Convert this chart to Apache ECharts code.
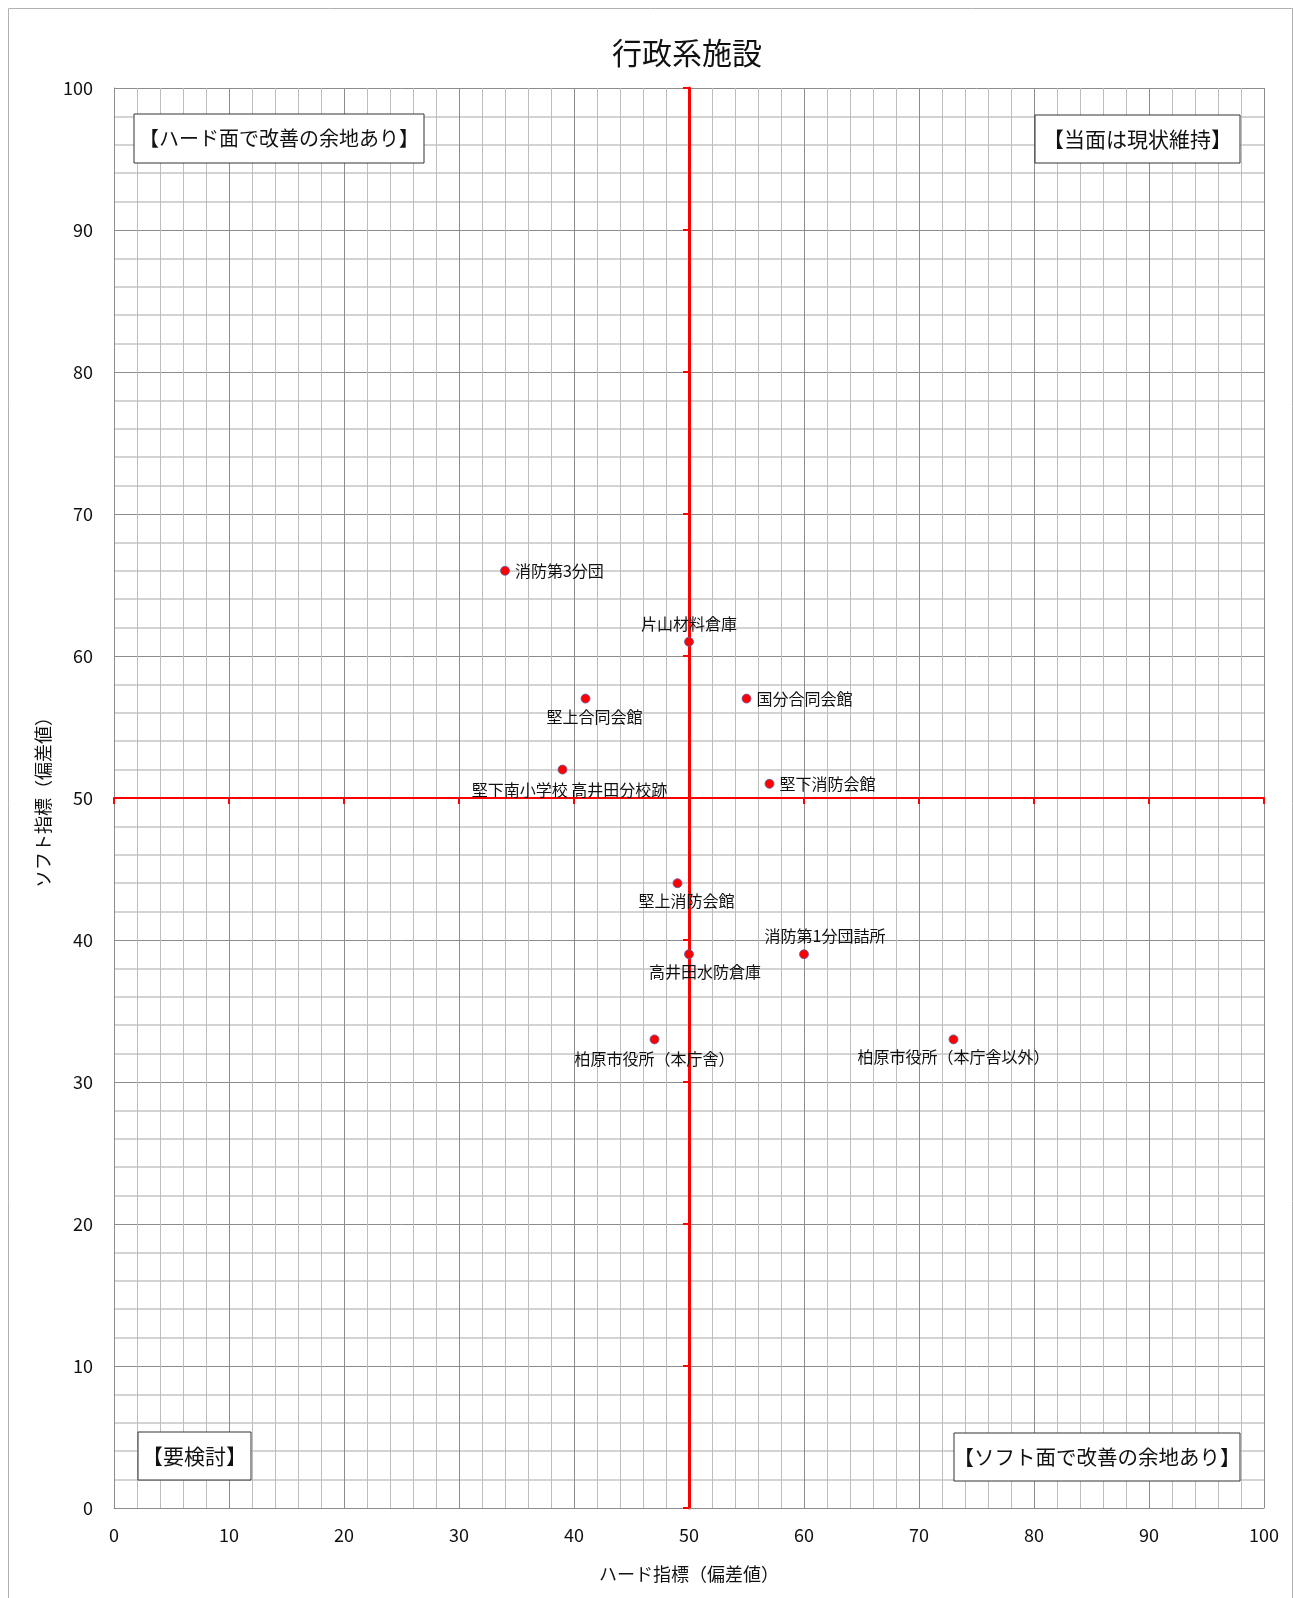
<!DOCTYPE html>
<html>
<head>
    <meta charset="utf-8">
    <script src="https://cdn.jsdelivr.net/npm/echarts@6.0.0/dist/echarts.min.js"></script>
    <style>
        body { margin: 0; background: #fff; }
        #main { width: 1293px; height: 1598px; }
    </style>
</head>

<body>
    <div id="main"></div>

    <script type="text/javascript">
        // data
        var facilities = ['消防第3分団', '片山材料倉庫', '堅上合同会館', '国分合同会館', '堅下南小学校 高井田分校跡',
            '堅下消防会館', '堅上消防会館', '消防第1分団詰所', '高井田水防倉庫', '柏原市役所（本庁舎）', '柏原市役所（本庁舎以外）'];
        var hardScore = [34, 50, 41, 55, 39, 57, 49, 60, 50, 47, 73];
        var softScore = [66, 61, 57, 57, 52, 51, 44, 39, 39, 33, 33];
        var axisMin = 0, axisMax = 100, axisStep = 10, midValue = 50;
        var quadrantNames = ['【ハード面で改善の余地あり】', '【当面は現状維持】', '【要検討】', '【ソフト面で改善の余地あり】'];

        // label placement (layout only)
        var labelSide = ['right', 'top', 'bottom', 'right', 'bottom', 'right', 'bottom', 'top', 'bottom', 'bottom', 'bottom'];
        var labelShift = [[0, 0], [0, 0], [9, 0], [0, 0], [7, 2], [0, 0], [9, 0], [21, 0], [16, 0], [0, 2], [0, 0]];

        var font = '"Noto Sans CJK JP", "Noto Sans", sans-serif';
        var gL = 114, gR = 29, gT = 88, gB = 90;
        var plotW = 1293 - gL - gR, plotH = 1598 - gT - gB;

        var myChart = echarts.init(document.getElementById('main'));

        var points = facilities.map(function (name, i) {
            return {
                name: name,
                value: [hardScore[i], softScore[i]],
                label: { position: labelSide[i], offset: labelShift[i] }
            };
        });

        function quadBox(text, x, y, w, h, size) {
            return {
                type: 'group', x: x, y: y,
                children: [
                    { type: 'rect', z: 100, shape: { x: 0, y: 0, width: w, height: h },
                      style: { fill: '#fff', stroke: '#333', lineWidth: 1 } },
                    { type: 'text', z: 101, x: w / 2, y: h / 2,
                      style: { text: text, fill: '#111', font: size + 'px ' + font, align: 'center', verticalAlign: 'middle' } }
                ]
            };
        }

        var hidden = { show: false };
        var redLine = { color: '#ff0000', width: 2 };

        myChart.setOption({
            animation: false,
            textStyle: { fontFamily: font },
            title: {
                text: '行政系施設',
                left: 682, top: 33, textAlign: 'center',
                textStyle: { fontSize: 30, fontWeight: 'normal', color: '#111', fontFamily: font }
            },
            graphic: [
                { type: 'rect', left: 6, top: 6, z: -10, silent: true,
                  shape: { width: 1284, height: 1600 }, style: { fill: 'none', stroke: '#b0b0b0', lineWidth: 1 } },
                quadBox(quadrantNames[0], 134, 114, 290, 49, 20),
                quadBox(quadrantNames[1], 1035, 115, 205, 48, 21),
                quadBox(quadrantNames[2], 138, 1432, 113, 48, 21),
                quadBox(quadrantNames[3], 954, 1433, 286, 48, 20.5)
            ],
            grid: [
                { left: gL, right: gR, top: gT, bottom: gB },
                // top half: its bottom edge carries the x = 50 line
                { left: gL, right: gR, top: gT, bottom: gB + plotH / 2 },
                // right half: its left edge carries the y = 50 line
                { left: gL + plotW / 2, right: gR, top: gT, bottom: gB }
            ],
            xAxis: [
                {
                    gridIndex: 0, type: 'value', min: axisMin, max: axisMax, interval: axisStep,
                    name: 'ハード指標（偏差値）', nameLocation: 'middle', nameGap: 57,
                    nameTextStyle: { fontSize: 18, color: '#111', fontFamily: font },
                    axisLine: { show: true, lineStyle: { color: '#8c8c8c', width: 1 } },
                    axisTick: hidden,
                    axisLabel: { fontSize: 18, color: '#111', margin: 18, fontFamily: font },
                    splitLine: { show: true, lineStyle: { color: '#8c8c8c', width: 1 } },
                    minorTick: { show: false, splitNumber: 5 },
                    minorSplitLine: { show: true, lineStyle: { color: '#bdbdbd', width: 1 } }
                },
                {
                    gridIndex: 1, type: 'value', min: axisMin, max: axisMax, interval: axisStep,
                    axisLine: { show: true, lineStyle: { color: '#ff0000', width: 2 } },
                    axisTick: { show: true, inside: false, length: 6, lineStyle: redLine },
                    axisLabel: hidden, splitLine: hidden
                },
                {
                    gridIndex: 2, type: 'value', min: midValue, max: axisMax,
                    axisLine: hidden, axisTick: hidden, axisLabel: hidden, splitLine: hidden
                }
            ],
            yAxis: [
                {
                    gridIndex: 0, type: 'value', min: axisMin, max: axisMax, interval: axisStep,
                    name: 'ソフト指標（偏差値）', nameLocation: 'middle', nameGap: 62,
                    nameTextStyle: { fontSize: 18, color: '#111', fontFamily: font },
                    axisLine: { show: true, lineStyle: { color: '#8c8c8c', width: 1 } },
                    axisTick: hidden,
                    axisLabel: { fontSize: 18, color: '#111', margin: 21, fontFamily: font },
                    splitLine: { show: true, lineStyle: { color: '#8c8c8c', width: 1 } },
                    minorTick: { show: false, splitNumber: 5 },
                    minorSplitLine: { show: true, lineStyle: { color: '#d3d3d3', width: 2 } }
                },
                {
                    gridIndex: 1, type: 'value', min: midValue, max: axisMax,
                    axisLine: hidden, axisTick: hidden, axisLabel: hidden, splitLine: hidden
                },
                {
                    gridIndex: 2, type: 'value', min: axisMin, max: axisMax, interval: axisStep, position: 'left',
                    axisLine: { show: true, lineStyle: { color: '#ff0000', width: 3 } },
                    axisTick: { show: true, inside: false, length: 6, lineStyle: redLine },
                    axisLabel: hidden, splitLine: hidden
                }
            ],
            series: [{
                type: 'scatter',
                xAxisIndex: 0, yAxisIndex: 0,
                symbolSize: 9,
                z: 10,
                itemStyle: { color: '#ff0000', borderColor: '#5a5fa8', borderWidth: 0.8, opacity: 1 },
                label: {
                    show: true,
                    formatter: '{b}',
                    fontSize: 16,
                    color: '#111',
                    distance: 5,
                    fontFamily: font
                },
                data: points
            }]
        });
    </script>
</body>

</html>
